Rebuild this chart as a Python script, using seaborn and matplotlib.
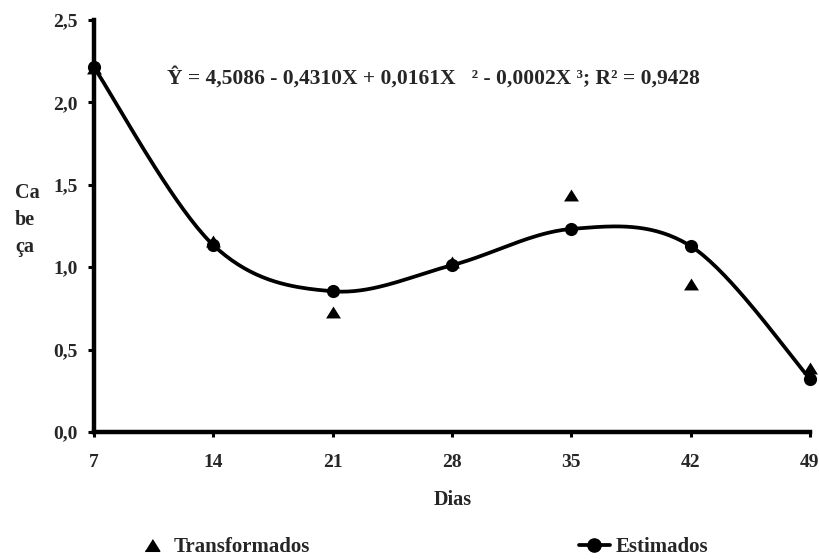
import numpy as np
import pandas as pd
import matplotlib
matplotlib.use("Agg")
import matplotlib.pyplot as plt
from matplotlib.lines import Line2D
import seaborn as sns

# ---- data ----
dias = [7, 14, 21, 28, 35, 42, 49]
transformados = [2.21, 1.16, 0.73, 1.03, 1.44, 0.90, 0.39]
estimados = [2.213, 1.134, 0.854, 1.012, 1.232, 1.128, 0.323]
y_ticks = [0.0, 0.5, 1.0, 1.5, 2.0, 2.5]
y_tick_labels = ["0,0", "0,5", "1,0", "1,5", "2,0", "2,5"]
x_tick_labels = ["7", "14", "21", "28", "35", "42", "49"]
equation = "Ŷ = 4,5086 - 0,4310X + 0,0161X   ² - 0,0002X ³; R² = 0,9428"

sns.set_theme(style="white")
plt.rcParams['font.family'] = ['Liberation Serif', 'DejaVu Serif']
plt.rcParams['font.weight'] = 'bold'


def smooth_curve(xs, ys, n=40):
    """Excel-like smoothed line (Catmull-Rom Bezier) through the points."""
    xs = np.asarray(xs, float)
    ys = np.asarray(ys, float)
    px, py = [], []
    m = len(xs)
    for i in range(m - 1):
        i0 = max(i - 1, 0)
        i3 = min(i + 2, m - 1)
        p0 = np.array([xs[i], ys[i]])
        p3 = np.array([xs[i + 1], ys[i + 1]])
        c1 = p0 + (np.array([xs[i + 1], ys[i + 1]]) - np.array([xs[i0], ys[i0]])) / 6
        c2 = p3 - (np.array([xs[i3], ys[i3]]) - np.array([xs[i], ys[i]])) / 6
        t = np.linspace(0, 1, n)[:, None]
        pts = ((1 - t) ** 3) * p0 + 3 * ((1 - t) ** 2) * t * c1 + 3 * (1 - t) * t ** 2 * c2 + t ** 3 * p3
        if i > 0:
            pts = pts[1:]
        px.extend(pts[:, 0])
        py.extend(pts[:, 1])
    return np.array(px), np.array(py)


df = pd.DataFrame({"Dias": dias, "Transformados": transformados, "Estimados": estimados})
sx, sy = smooth_curve(dias, estimados)
curve = pd.DataFrame({"x": sx, "y": sy})

fig = plt.figure(figsize=(8.2, 5.59), dpi=100)
ax = fig.add_axes([94 / 820, (559 - 432) / 559, 716 / 820, 412 / 559])

tri = [(-1, -0.8), (1, -0.8), (0, 0.8)]
sns.scatterplot(data=df, x="Dias", y="Transformados", marker=tri, s=115,
                color="black", edgecolor="black", linewidth=0, ax=ax, zorder=3, clip_on=False)
sns.lineplot(data=curve, x="x", y="y", color="black", linewidth=2.7, ax=ax,
             zorder=4, sort=False, estimator=None)
sns.scatterplot(data=df, x="Dias", y="Estimados", marker="o", s=90,
                color="black", edgecolor="black", linewidth=0, ax=ax, zorder=5, clip_on=False)

ax.set_xlim(7, 49)
ax.set_ylim(0, 2.5)
ax.set_xticks(dias)
ax.set_xticklabels(x_tick_labels, fontsize=14, fontweight="bold")
ax.set_yticks(y_ticks)
ax.set_yticklabels(y_tick_labels, fontsize=14, fontweight="bold")
ax.set_xlabel("")
ax.set_ylabel("")

for s in ["top", "right"]:
    ax.spines[s].set_visible(False)
for s in ["left", "bottom"]:
    ax.spines[s].set_visible(True)
    ax.spines[s].set_color("black")
    ax.spines[s].set_linewidth(3.2)

ax.tick_params(axis="y", direction="out", length=4.5, width=2.2, color="black", pad=7, left=True)
ax.tick_params(axis="x", direction="out", length=3.5, width=2.2, color="black", pad=12, bottom=True)

fig.text(453 / 820, 1 - 500 / 559, "Dias", fontsize=14.5, fontweight="bold",
         ha="center", va="center")
fig.text(15 / 820, 1 - 220 / 559, "Ca\nbe\nça", fontsize=14.5, fontweight="bold",
         ha="left", va="center", multialignment="left", linespacing=1.45)
fig.text(167 / 820, 1 - 84 / 559, equation, fontsize=15.5, fontweight="bold",
         ha="left", va="baseline")

handles = [
    Line2D([0], [0], linestyle="none", marker=tri, markersize=10.5, color="black"),
    Line2D([0], [0], linestyle="-", linewidth=2.7, marker="o", markersize=9.5, color="black"),
]
leg = fig.legend(handles, ["Transformados", "Estimados"], ncol=2, loc="center",
                 bbox_to_anchor=(0.515, 1 - 547 / 559), frameon=False,
                 prop={"size": 15, "weight": "bold"}, handlelength=1.5,
                 handletextpad=0.3, columnspacing=12.9)

fig.savefig("out.png", dpi=100)
